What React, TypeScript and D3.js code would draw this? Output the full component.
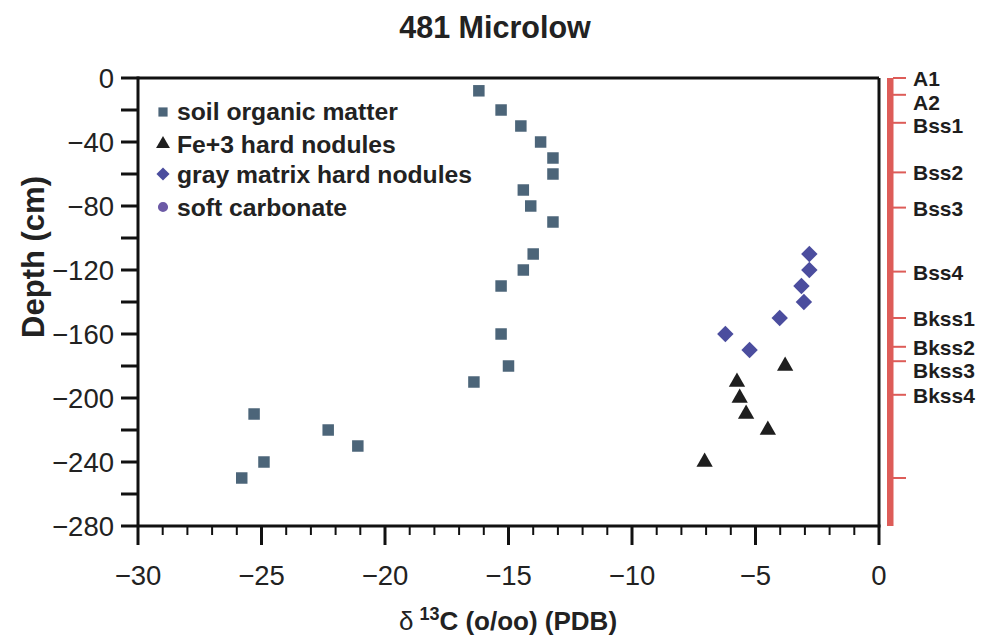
import React from "react";
import * as d3 from "d3";

// ---- data ----
const somDelta = [-16.2, -15.3, -14.5, -13.7, -13.2, -13.2, -14.4, -14.1, -13.2, -14.0, -14.4, -15.3, -15.3, -15.0, -16.4, -25.3, -22.3, -21.1, -24.9, -25.8];
const somDepth = [-8, -20, -30, -40, -50, -60, -70, -80, -90, -110, -120, -130, -160, -180, -190, -210, -220, -230, -240, -250];

const feDelta = [-3.8, -5.75, -5.64, -5.38, -4.5, -7.06];
const feDepth = [-180, -190, -200, -210, -220, -240];

const grayDelta = [-2.82, -2.82, -3.14, -3.04, -4.02, -6.22, -5.24];
const grayDepth = [-110, -120, -130, -140, -150, -160, -170];

const softDelta: number[] = [];
const softDepth: number[] = [];

const horizonNames = ["A1", "A2", "Bss1", "Bss2", "Bss3", "Bss4", "Bkss1", "Bkss2", "Bkss3", "Bkss4", ""];
const horizonDepths = [0, -10.5, -28, -59, -81, -121, -150, -168, -177, -198, -250];

const xTickValues = [-30, -25, -20, -15, -10, -5, 0];
const yTickValues = [0, -40, -80, -120, -160, -200, -240, -280];

const legendLabels = ["soil organic matter", "Fe+3 hard nodules", "gray matrix hard nodules", "soft carbonate"];

const titleText = "481 Microlow";
const yTitle = "Depth (cm)";

// ---- styles ----
const C_SQ = "#4c6579";
const C_TRI = "#1e1e1e";
const C_DIA = "#4b4d9e";
const C_CIR = "#6c5aa6";
const C_RED = "#dd5c58";
const FONT = "'Liberation Sans', Arial, Helvetica, sans-serif";

const fmt = (v: number) => (v < 0 ? "\u2212" + Math.abs(v) : String(v));

export default function App() {
  const W = 991, H = 641;
  const x = d3.scaleLinear().domain([-30, 0]).range([138, 879]);
  const y = d3.scaleLinear().domain([0, -280]).range([78, 526]);

  const xMinor = d3.range(-30, 0.001, 1);
  const yMinor = d3.range(0, -280.001, -20);

  const sym = (type: d3.SymbolType, size: number) => d3.symbol().type(type).size(size)()!;
  const sqPath = sym(d3.symbolSquare, 132);
  const triPath = sym(d3.symbolTriangle, 115);
  const diaPath = sym(d3.symbolSquare, 135);
  const cirPath = sym(d3.symbolCircle, 100);

  const x0 = x(-30), x1 = x(0), y0 = y(0), y1 = y(-280);

  // label positions with collision avoidance
  const labelYs: number[] = [];
  horizonDepths.forEach((d, i) => {
    const ty = y(d);
    const prev = i > 0 ? labelYs[i - 1] : -Infinity;
    labelYs.push(Math.max(ty, prev + 23.5));
  });

  const legendY = [111, 144, 174, 207];
  const legendPaths = [sqPath, triPath, diaPath, cirPath];
  const legendColors = [C_SQ, C_TRI, C_DIA, C_CIR];
  const legendRot = [0, 0, 45, 0];
  const legendScale = [0.8, 0.85, 0.8, 0.9];

  return (
    <svg width={W} height={H} style={{ position: "absolute", left: 0, top: 0, background: "#fff" }} fontFamily={FONT}>
      <rect x={0} y={0} width={W} height={H} fill="#fff" />
      {/* title */}
      <text x={495} y={38} textAnchor="middle" fontSize={30.5} fontWeight="bold" fill="#222">{titleText}</text>

      {/* frame */}
      <line x1={x0} y1={y0} x2={x1} y2={y0} stroke="#111" strokeWidth={3} />
      <line x1={x1} y1={y0} x2={x1} y2={y1} stroke="#111" strokeWidth={3} />
      <line x1={x0} y1={y0 - 1.5} x2={x0} y2={y1} stroke="#111" strokeWidth={3} />
      <line x1={x0} y1={y1} x2={x1 + 1.5} y2={y1} stroke="#111" strokeWidth={3} />

      {/* y ticks */}
      {yMinor.map((v) => (
        <line key={"yt" + v} x1={x0 - 17} x2={x0} y1={y(v)} y2={y(v)} stroke="#111" strokeWidth={3} />
      ))}
      {yTickValues.map((v) => (
        <text key={"yl" + v} x={114} y={y(v) + 10} textAnchor="end" fontSize={27.5} fill="#222">{fmt(v)}</text>
      ))}

      {/* x ticks */}
      {xMinor.map((v) => {
        const major = Math.abs(v % 5) < 1e-6;
        return (
          <line key={"xt" + v} x1={x(v)} x2={x(v)} y1={y1} y2={y1 + (major ? 19 : 9)} stroke="#111" strokeWidth={major ? 3 : 2} />
        );
      })}
      {xTickValues.map((v) => (
        <text key={"xl" + v} x={x(v)} y={585} textAnchor="middle" fontSize={27.5} fill="#222">{fmt(v)}</text>
      ))}

      {/* axis titles */}
      <text x={508} y={630} textAnchor="middle" fontSize={26} fontWeight="bold" fill="#222">
        <tspan fontWeight="normal">δ</tspan>
        <tspan dx={6} dy={-10} fontSize={18}>13</tspan>
        <tspan dy={10}>C (o/oo) (PDB)</tspan>
      </text>
      <text transform={`translate(44,257) rotate(-90)`} textAnchor="middle" fontSize={31} fontWeight="bold" fill="#222">{yTitle}</text>

      {/* horizon bar */}
      <rect x={887} y={y0} width={6.5} height={y1 - y0} fill={C_RED} />
      {horizonDepths.map((d, i) => (
        <line key={"ht" + i} x1={893} x2={906} y1={y(d)} y2={y(d)} stroke={C_RED} strokeWidth={2} />
      ))}
      {horizonNames.map((n, i) => (
        <text key={"hl" + i} x={913} y={labelYs[i] + 8} fontSize={21} fontWeight="bold" fill="#1e1e1e">{n}</text>
      ))}

      {/* data */}
      {somDelta.map((v, i) => (
        <path key={"s" + i} d={sqPath} transform={`translate(${x(v)},${y(somDepth[i])})`} fill={C_SQ} />
      ))}
      {feDelta.map((v, i) => (
        <path key={"f" + i} d={triPath} transform={`translate(${x(v)},${y(feDepth[i])})`} fill={C_TRI} />
      ))}
      {grayDelta.map((v, i) => (
        <path key={"g" + i} d={diaPath} transform={`translate(${x(v)},${y(grayDepth[i])}) rotate(45)`} fill={C_DIA} />
      ))}
      {softDelta.map((v, i) => (
        <path key={"c" + i} d={cirPath} transform={`translate(${x(v)},${y(softDepth[i])})`} fill={C_CIR} />
      ))}

      {/* legend */}
      {legendLabels.map((l, i) => (
        <g key={"lg" + i}>
          <path d={legendPaths[i]} transform={`translate(163,${legendY[i] + (i === 0 ? 1 : 0)}) rotate(${legendRot[i]}) scale(${legendScale[i]})`} fill={legendColors[i]} />
          <text x={177} y={legendY[i] + 8.5} fontSize={24.7} fontWeight="bold" fill="#222">{l}</text>
        </g>
      ))}
    </svg>
  );
}
